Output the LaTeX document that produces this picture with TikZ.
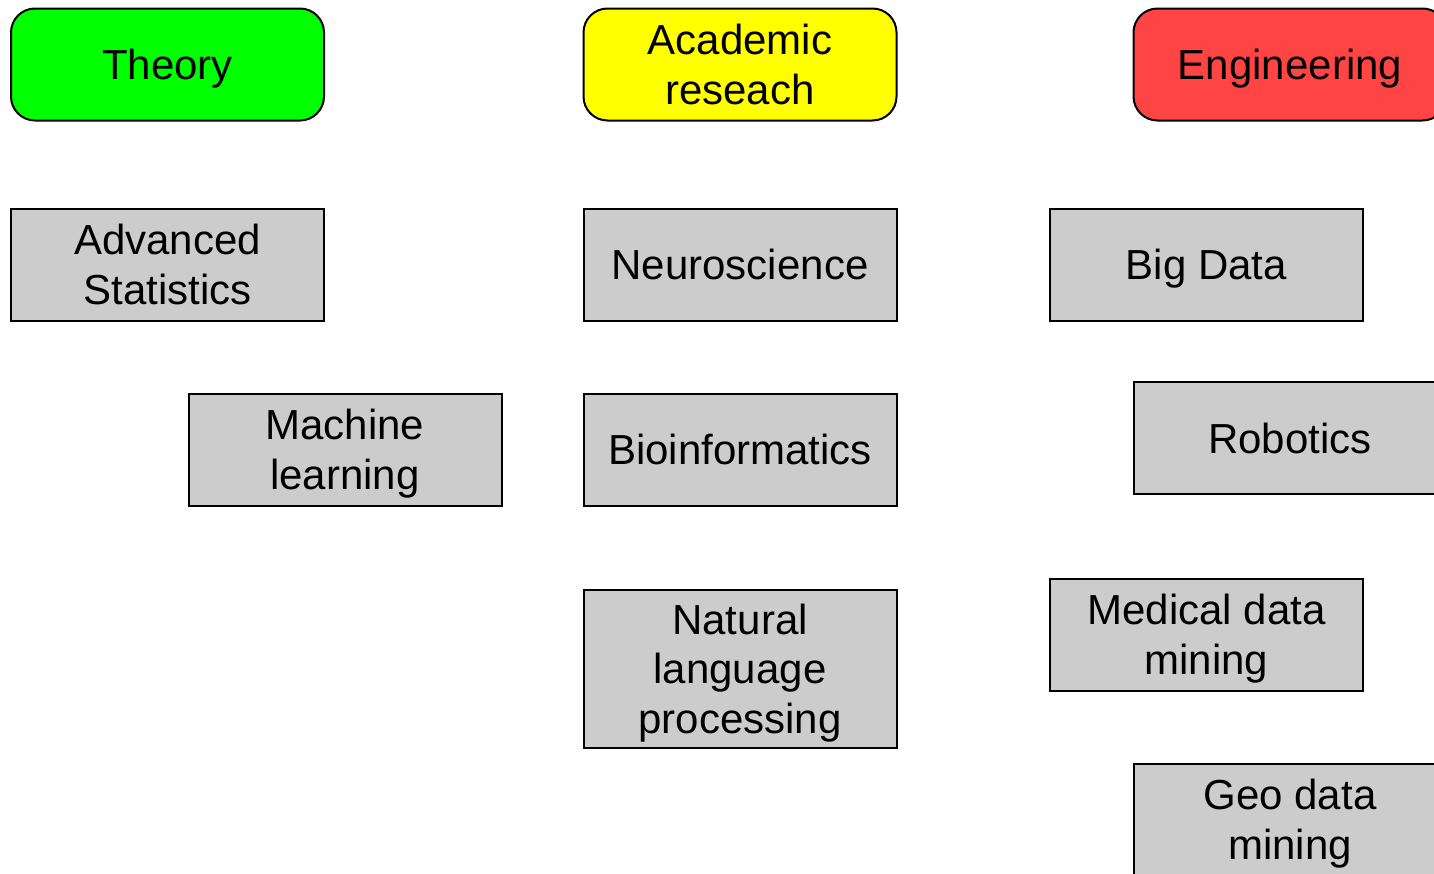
\documentclass[tikz,border=0pt]{standalone}
\usepackage{fontspec}
\setmainfont{Liberation Sans}
\definecolor{boxgray}{HTML}{CCCCCC}
\definecolor{thgreen}{HTML}{00FF00}
\definecolor{acyellow}{HTML}{FFFF00}
\definecolor{enred}{HTML}{FF4444}
\tikzset{
  topic/.style={draw=black, line width=2pt, fill=boxgray, minimum width=313pt, minimum height=112pt,
    align=center, inner sep=2pt, text depth=0pt, font=\fontsize{42}{49.5}\selectfont},
  headbox/.style={topic, rounded corners=24pt}
}
\begin{document}
\begin{tikzpicture}[x=1pt,y=-1pt]
\clip (0,0) rectangle (1434,873);
\fill[white] (0,0) rectangle (1434,873);
\node[headbox, fill=thgreen] (theory) at (167.5,64.5) {Theory};
\node[headbox, fill=acyellow] (acad) at (740,64.5) {Academic\\reseach};
\node[headbox, fill=enred] (eng) at (1290,64.5) {Engineering};
\node[topic] (advstat) at (167.5,264.5) {Advanced\\Statistics};
\node[topic] (ml) at (345,449.5) {Machine\\learning};
\node[topic] (neuro) at (740,264.5) {Neuroscience};
\node[topic] (bio) at (740,449.5) {Bioinformatics};
\node[topic, minimum height=158pt] (nlp) at (740,668.5) {Natural\\language\\processing};
\node[topic] (bigdata) at (1206.5,264.5) {Big Data};
\node[topic] (robot) at (1290,438) {Robotics};
\node[topic] (medical) at (1206.5,634.5) {Medical data\\mining};
\node[topic] (geo) at (1290,819.5) {Geo data\\mining};
\end{tikzpicture}
\end{document}
